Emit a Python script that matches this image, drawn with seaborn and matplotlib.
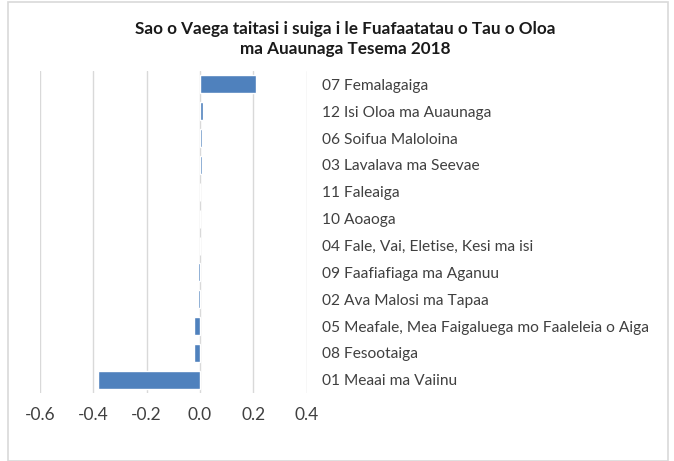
import matplotlib
matplotlib.use('Agg')
import matplotlib.pyplot as plt
import seaborn as sns
import pandas as pd
from matplotlib.patches import Rectangle

# ── datos ────────────────────────────────────────────────────────────
categorias = [
    '07 Femalagaiga',
    '12 Isi Oloa ma Auaunaga',
    '06 Soifua Maloloina',
    '03 Lavalava ma Seevae',
    '11 Faleaiga',
    '10 Aoaoga',
    '04 Fale, Vai, Eletise, Kesi ma isi',
    '09 Faafiafiaga ma Aganuu',
    '02 Ava Malosi ma Tapaa',
    '05 Meafale, Mea Faigaluega mo Faaleleia o Aiga',
    '08 Fesootaiga',
    '01 Meaai ma Vaiinu',
]
sao = [0.21, 0.01, 0.007, 0.007, 0.0, 0.0, 0.0, -0.006, -0.006, -0.022, -0.022, -0.38]
xticks = [-0.6, -0.4, -0.2, 0.0, 0.2, 0.4]

df = pd.DataFrame({'vaega': categorias, 'sao': sao})

sns.set_style('white')
plt.rcParams['font.family'] = ['Lato', 'DejaVu Sans']

fig = plt.figure(figsize=(6.74, 4.61), dpi=100)
ax = fig.add_axes([0.059, 0.147, 0.396, 0.699])

sns.barplot(data=df, x='sao', y='vaega', orient='h', color='#4F81BD',
            saturation=1, width=0.67, ax=ax, zorder=3)

ax.set_xlim(-0.6, 0.4)
ax.set_xticks(xticks)
ax.set_xticklabels([f'{t:.1f}' for t in xticks], fontsize=12.5, color='#404040')
ax.grid(axis='x', color='#D9D9D9', lw=1, zorder=0)
ax.grid(axis='y', visible=False)
for s in ax.spines.values():
    s.set_visible(False)
ax.tick_params(axis='x', length=0, pad=10)
ax.yaxis.tick_right()
ax.tick_params(axis='y', length=0, pad=11, labelsize=11.2, labelcolor='#404040')
ax.set_xlabel(''); ax.set_ylabel('')

fig.text(0.512, 0.955, 'Sao o Vaega taitasi i suiga i le Fuafaatatau o Tau o Oloa\nma Auaunaga Tesema 2018',
         ha='center', va='top', fontsize=12.3, fontweight='bold', linespacing=1.35, color='#1a1a1a')

fig.patches.append(Rectangle((0.012, 0.0), 0.979, 0.995, transform=fig.transFigure,
                             fill=False, edgecolor='#D9D9D9', lw=1.2))

plt.savefig('out.png', dpi=100)
plt.close()
